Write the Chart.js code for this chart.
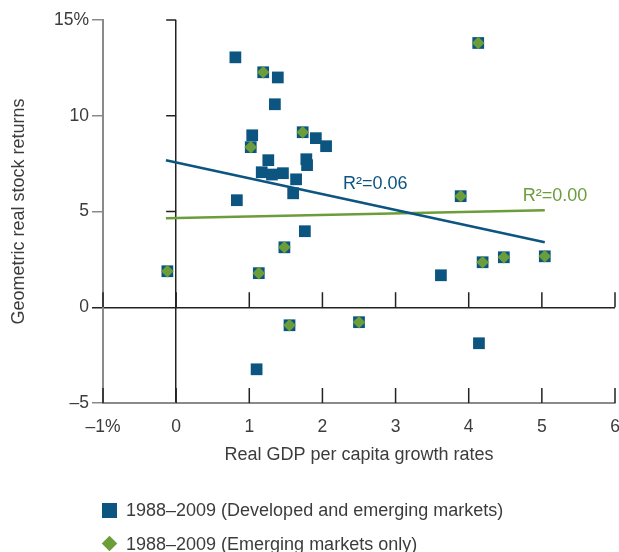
<!DOCTYPE html>
<html>
<head>
<meta charset="utf-8">
<script src="https://cdn.jsdelivr.net/npm/chart.js@4.4.1/dist/chart.umd.min.js"></script>
<style>
body { margin: 0; background: #fff; overflow: hidden; }
#wrap { position: relative; width: 619px; height: 552px; }
#gdpChart { position: absolute; left: 0; top: 0; display: block; }
.leg { position: absolute; left: 126px; font: 18px "Liberation Sans", Arial, sans-serif; color: #3c3c3c; line-height: 20px; white-space: nowrap; }
.mark { position: absolute; }
</style>
</head>
<body>
<div id="wrap">
<canvas id="gdpChart" width="619" height="552"></canvas>
<div class="mark" style="left:102px;top:503px;width:15px;height:15px;background:#0c5580"></div>
<div class="leg" style="top:500px">1988–2009 (Developed and emerging markets)</div>
<div class="mark" style="left:104px;top:538px;width:11px;height:11px;background:#6b9d3a;transform:rotate(45deg)"></div>
<div class="leg" style="top:534px">1988–2009 (Emerging markets only)</div>
</div>
<script>
// GDP growth (x) vs real stock returns (y), per country
var allX = [0.81, 1.19, 1.39, 1.35, 1.04, 1.02, 1.26, 1.17, 1.31, 1.46, 1.64, 1.60, 0.83, 1.73, 1.91, 2.05, 1.76, 1.78, 1.79, 4.13, 3.89, -0.12, 1.13, 1.48, 1.55, 1.10, 2.50, 3.62, 4.19, 4.48, 5.04, 4.14]
var allY = [13.05, 12.27, 12.0, 10.6, 8.98, 8.36, 7.68, 7.05, 6.93, 7.0, 6.68, 5.95, 5.59, 9.14, 8.83, 8.41, 3.97, 7.73, 7.42, 13.8, 5.80, 1.88, 1.78, 3.13, -0.94, -3.24, -0.78, 1.67, 2.35, 2.61, 2.66, -1.88]
var emX = [1.19, 1.02, 1.73, 4.13, 3.89, -0.12, 1.13, 1.48, 1.55, 2.50, 4.19, 4.48, 5.04]
var emY = [12.27, 8.36, 9.14, 13.8, 5.80, 1.88, 1.78, 3.13, -0.94, -0.78, 2.35, 2.61, 2.66]
// fitted lines, end points
var allFitX = [-0.14, 5.04]
var allFitY = [7.68, 3.39]
var emFitX = [-0.14, 5.04]
var emFitY = [4.65, 5.07]
// ticks
var xTicks = [-1, 0, 1, 2, 3, 4, 5, 6]
var xTickLabels = ['\u20131%', '0', '1', '2', '3', '4', '5', '6']
var yTicks = [-5, 0, 5, 10, 15]
var yTickLabels = ['\u20135', '0', '5', '10', '15%']

var blue = '#0c5580'
var green = '#6b9d3a'
var textColor = '#3c3c3c'
var fontFamily = '"Liberation Sans", Arial, sans-serif'

function pts(xs, ys) {
    return xs.map(function (x, i) { return { x: x, y: ys[i] } })
}

// R2 labels, placed in data units
var rLabels = [
    { text: 'R\u00b2=0.06', x: 2.28, y: 6.42, color: blue },
    { text: 'R\u00b2=0.00', x: 4.74, y: 5.80, color: green }
]

// ticks drawn inward on the zero lines and the bottom axis
var innerTicks = {
    id: 'innerTicks',
    afterDatasetsDraw: function (chart) {
        var ctx = chart.ctx
        var xs = chart.scales.x
        var ys = chart.scales.y
        ctx.save()
        ctx.strokeStyle = '#222'
        ctx.lineWidth = 1.5
        ctx.beginPath()
        xTicks.forEach(function (v) {
            var px = xs.getPixelForValue(v)
            ;[0, -5].forEach(function (yv) {
                var py = ys.getPixelForValue(yv)
                ctx.moveTo(px, py)
                ctx.lineTo(px, py - 15)
            })
        })
        var zx = xs.getPixelForValue(0)
        yTicks.forEach(function (v) {
            if (v <= 0) return
            var py = ys.getPixelForValue(v)
            ctx.moveTo(zx - 10, py)
            ctx.lineTo(zx, py)
        })
        ctx.stroke()
        ctx.font = '18px ' + fontFamily
        ctx.textBaseline = 'middle'
        ctx.textAlign = 'left'
        rLabels.forEach(function (l) {
            ctx.fillStyle = l.color
            ctx.fillText(l.text, xs.getPixelForValue(l.x), ys.getPixelForValue(l.y))
        })
        ctx.restore()
    }
}

var ctx = document.getElementById('gdpChart').getContext('2d')
new Chart(ctx, {
    type: 'scatter',
    data: {
        datasets: [
            {
                label: '1988\u20132009 (Emerging markets only)',
                data: pts(emX, emY),
                pointStyle: 'rectRot',
                pointRadius: 6.3,
                pointBorderWidth: 0,
                backgroundColor: green,
                order: 1
            },
            {
                label: '1988\u20132009 (Developed and emerging markets)',
                data: pts(allX, allY),
                pointStyle: 'rect',
                pointRadius: 8.3,
                pointBorderWidth: 0,
                backgroundColor: blue,
                order: 2
            },
            {
                label: 'fit all',
                data: pts(allFitX, allFitY),
                showLine: true,
                pointRadius: 0,
                borderColor: blue,
                borderWidth: 2.5,
                order: 3
            },
            {
                label: 'fit emerging',
                data: pts(emFitX, emFitY),
                showLine: true,
                pointRadius: 0,
                borderColor: green,
                borderWidth: 2.5,
                order: 4
            }
        ]
    },
    options: {
        responsive: false,
        animation: false,
        devicePixelRatio: 1,
        layout: { autoPadding: false, padding: { top: 20, right: 4, left: 0, bottom: 0 } },
        plugins: {
            legend: { display: false },
            tooltip: { enabled: false }
        },
        scales: {
            x: {
                type: 'linear',
                min: -1,
                max: 6,
                afterFit: function (s) {
                    s.height = 149
                    s.paddingLeft = 0
                    s.paddingRight = 0
                },
                afterBuildTicks: function (s) { s.ticks = xTicks.map(function (v) { return { value: v } }) },
                ticks: {
                    padding: 0,
                    color: textColor,
                    font: { family: fontFamily, size: 17.5 },
                    callback: function (v) { return xTickLabels[xTicks.indexOf(v)] }
                },
                grid: {
                    drawTicks: true,
                    tickLength: 14,
                    tickColor: 'rgba(0,0,0,0)',
                    lineWidth: 1.5,
                    color: function (c) { return c.tick && c.tick.value === 0 ? '#222' : 'rgba(0,0,0,0)' }
                },
                border: { display: true, color: '#8a8a8a', width: 2 },
                title: {
                    display: true,
                    text: 'Real GDP per capita growth rates',
                    color: textColor,
                    font: { family: fontFamily, size: 18 },
                    padding: { top: 0, bottom: 86 }
                }
            },
            y: {
                type: 'linear',
                min: -5,
                max: 15,
                afterFit: function (s) { s.width = 103 },
                afterBuildTicks: function (s) { s.ticks = yTicks.map(function (v) { return { value: v } }) },
                ticks: {
                    padding: 3,
                    color: textColor,
                    font: { family: fontFamily, size: 17.5 },
                    callback: function (v) { return yTickLabels[yTicks.indexOf(v)] }
                },
                grid: {
                    drawTicks: true,
                    tickLength: 11,
                    lineWidth: 1.5,
                    color: function (c) { return c.tick && c.tick.value === 0 ? '#222' : 'rgba(0,0,0,0)' },
                    tickColor: function (c) { return c.tick && c.tick.value === 0 ? '#222' : '#8a8a8a' }
                },
                border: { display: true, color: '#8a8a8a', width: 2 },
                title: {
                    display: true,
                    text: 'Geometric real stock returns',
                    color: textColor,
                    font: { family: fontFamily, size: 18 },
                    padding: { top: 8, bottom: 0 }
                }
            }
        }
    },
    plugins: [innerTicks]
})
</script>
</body>
</html>
